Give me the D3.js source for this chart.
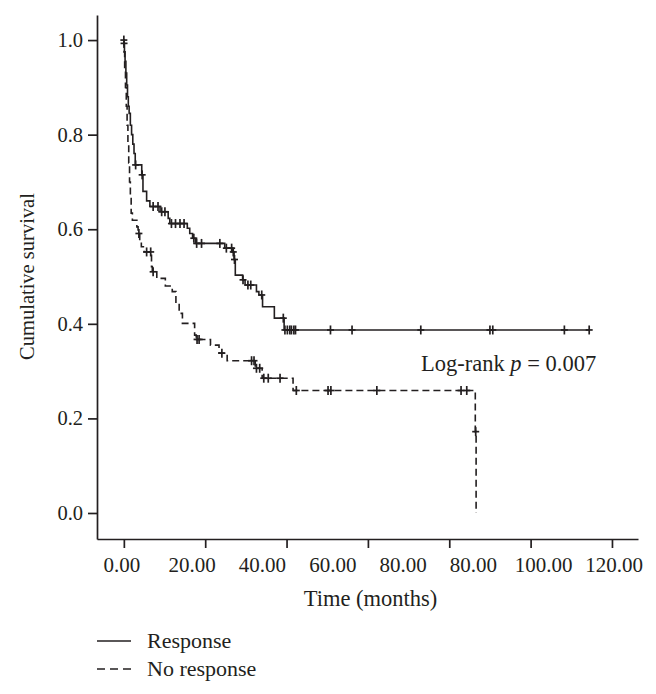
<!DOCTYPE html>
<html>
<head>
<meta charset="utf-8">
<script src="https://cdn.jsdelivr.net/npm/d3@7"></script>
<style>
  body { margin: 0; background: #fff; }
  text { font-family: "Liberation Serif", "DejaVu Serif", serif; fill: #231f20; }
</style>
</head>
<body>
<div id="chart"></div>
<script>
// Kaplan-Meier steps: [months, survival after event]
const responseEvents = [
  [0.02, .993], [0.15, .975], [0.3, .955], [0.5, .93], [0.7, .905], [0.9, .88],
  [1.1, .86], [1.3, .845], [1.6, .82], [1.9, .80], [2.2, .78], [2.5, .76], [2.8, .736],
  [4.4, .715], [4.7, .68], [5.6, .66], [6.4, .648], [8.9, .637], [10.9, .623],
  [11.3, .612], [15.6, .602], [16.2, .591], [16.9, .581], [17.6, .570], [24.8, .560],
  [26.7, .552], [27.1, .536], [27.4, .503], [29.2, .493], [29.8, .482], [32.6, .468],
  [33.2, .461], [34.1, .436], [37.0, .412], [39.4, .387]
];
const responseCensored = [
  0, 0.05, 2.9, 4.5, 7.2, 8.4, 9.3, 10.1, 11.7, 12.7, 13.8, 14.8, 17.2, 17.9, 19.1,
  23.6, 25.2, 26.5, 26.9, 27.2, 29.3, 30.5, 31.2, 33.9, 39.2, 39.6, 40.2, 40.8, 41.2,
  41.8, 42.2, 50.8, 56.1, 73.0, 90.0, 90.7, 108.3, 114.4
];

const noResponseEvents = [
  [0.05, .975], [0.2, .94], [0.4, .90], [0.6, .86], [0.8, .82], [1.0, .78], [1.2, .74],
  [1.4, .70], [1.6, .665], [1.8, .634], [2.1, .619], [3.2, .605], [3.5, .591],
  [3.9, .574], [4.3, .563], [5.0, .552], [6.8, .521], [7.0, .51], [8.1, .496],
  [10.2, .48], [11.9, .468], [12.8, .443], [13.6, .422], [14.4, .401], [17.4, .376],
  [17.8, .367], [21.3, .355], [23.4, .338], [25.4, .322], [32.3, .306], [34.0, .285],
  [41.6, .259], [86.4, .172], [86.6, 0]
];
const noResponseCensored = [
  3.7, 5.6, 6.6, 7.2, 18.0, 18.5, 24.1, 31.4, 32.0, 32.6, 33.4, 34.4, 35.5, 38.4,
  42.4, 50.2, 50.9, 62.2, 82.9, 84.3, 86.5
];

const xTicks = [0, 20, 40, 60, 80, 100, 120];
// the printed labels do not line up with the ticks (and 80.00 appears twice)
const xTickLabels = ["0.00", "20.00", "40.00", "60.00", "80.00", "80.00", "100.00", "120.00"];
const yTicks = [0, 0.2, 0.4, 0.6, 0.8, 1.0];

const width = 656, height = 694;

const svg = d3.select("#chart").append("svg")
  .attr("width", width)
  .attr("height", height);

const x = d3.scaleLinear().domain([-6.6, 126.4]).range([97, 638]);
const y = d3.scaleLinear().domain([-0.055, 1.053]).range([539, 15]);

// axes
const xAxis = svg.append("g")
  .attr("transform", "translate(0," + y.range()[0] + ")")
  .call(d3.axisBottom(x).tickValues(xTicks).tickFormat("").tickSize(9).tickSizeOuter(0));

const yAxis = svg.append("g")
  .attr("transform", "translate(" + x.range()[0] + ",0)")
  .call(d3.axisLeft(y).tickValues(yTicks).tickFormat(d3.format(".1f")).tickSize(9).tickSizeOuter(0).tickPadding(5));

[xAxis, yAxis].forEach(g => {
  g.selectAll("path, line").attr("stroke", "#231f20").attr("stroke-width", 1.7);
});
yAxis.selectAll("text").style("font-size", "20.5px").attr("fill", "#231f20")
  .style("font-family", '"Liberation Serif", serif');

const labelX = d3.scaleLinear()
  .domain([0, xTickLabels.length - 1])
  .range([x(-0.5), x(120.5)]);

svg.append("g").selectAll("text")
  .data(xTickLabels)
  .enter()
  .append("text")
  .attr("x", (d, i) => labelX(i))
  .attr("y", 572)
  .attr("text-anchor", "middle")
  .style("font-size", "21px")
  .text(d => d);

svg.append("text")
  .attr("x", (x.range()[0] + x.range()[1]) / 2 + 3)
  .attr("y", 606)
  .attr("text-anchor", "middle")
  .style("font-size", "22.5px")
  .text("Time (months)");

svg.append("text")
  .attr("transform", "translate(34," + y(0.5) + ")rotate(-90)")
  .attr("text-anchor", "middle")
  .style("font-size", "20.5px")
  .text("Cumulative survival");

// curves
const line = d3.line()
  .x(d => x(d[0]))
  .y(d => y(d[1]))
  .curve(d3.curveStepAfter);

const bisect = d3.bisector(d => d[0]).right;
function survAt(events, t) {
  const i = bisect(events, t);
  return i === 0 ? 1 : events[i - 1][1];
}

function drawCurve(events, censored, dash) {
  const last = d3.max(censored) > events[events.length - 1][0]
    ? [d3.max(censored), events[events.length - 1][1]]
    : null;
  const pts = [[0, 1]].concat(events);
  if (last) pts.push(last);

  svg.append("path")
    .datum(pts)
    .attr("fill", "none")
    .attr("stroke", "#231f20")
    .attr("stroke-width", 1.6)
    .attr("stroke-dasharray", dash)
    .attr("d", line);

  const marks = svg.append("g").selectAll("g")
    .data(censored)
    .enter()
    .append("g")
    .attr("transform", d => "translate(" + x(d) + "," + y(survAt(events, d)) + ")");
  marks.append("line")
    .attr("x1", 0).attr("x2", 0).attr("y1", -4.5).attr("y2", 4.5)
    .attr("stroke", "#231f20").attr("stroke-width", 1.7);
  marks.append("line")
    .attr("x1", -3.5).attr("x2", 3.5).attr("y1", 0).attr("y2", 0)
    .attr("stroke", "#231f20").attr("stroke-width", 1.7);
}

drawCurve(noResponseEvents, noResponseCensored, "7,4");
drawCurve(responseEvents, responseCensored, null);

// log-rank annotation
const lr = svg.append("text")
  .attr("x", 421)
  .attr("y", 371)
  .style("font-size", "22.5px");
lr.append("tspan").text("Log-rank ");
lr.append("tspan").style("font-style", "italic").text("p");
lr.append("tspan").text(" = 0.007");

// legend
const legendItems = [
  { label: "Response", dash: null },
  { label: "No response", dash: "8,5" }
];
const legend = svg.append("g").selectAll("g")
  .data(legendItems)
  .enter()
  .append("g")
  .attr("transform", (d, i) => "translate(97," + (641 + i * 28) + ")");
legend.append("line")
  .attr("x1", 0).attr("x2", 34)
  .attr("stroke", "#231f20")
  .attr("stroke-width", 1.6)
  .attr("stroke-dasharray", d => d.dash);
legend.append("text")
  .attr("x", 50)
  .attr("y", 7)
  .style("font-size", "22px")
  .text(d => d.label);
</script>
</body>
</html>
